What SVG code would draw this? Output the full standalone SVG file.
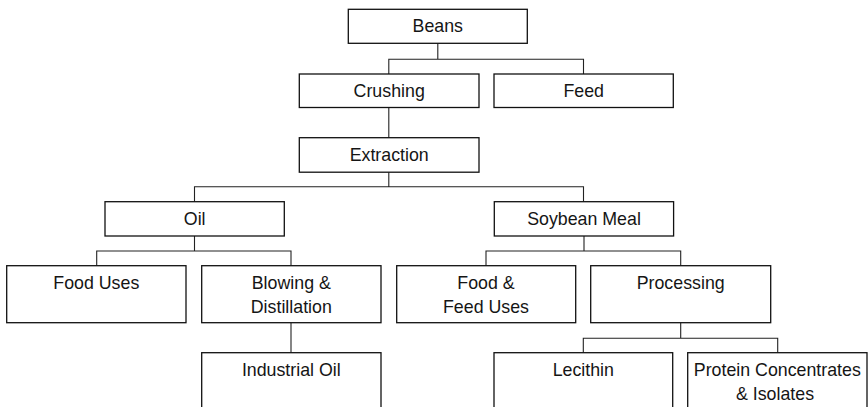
<svg xmlns="http://www.w3.org/2000/svg" width="868" height="407" viewBox="0 0 868 407">
<style>
.box{fill:#fff;stroke:#111;stroke-width:1.3}
.lbl{font-family:"Liberation Sans",Arial,sans-serif;font-size:17.8px;fill:#151515;text-anchor:middle}
.con{fill:none;stroke:#222;stroke-width:1.1}
</style>
<rect width="868" height="407" fill="#fff"/>
<g id="connectors">
<path class="con" d="M437.8 43.3V59.3M388.8 74V59.3H583.5V74"/>
<path class="con" d="M388.8 107.5V137.7"/>
<path class="con" d="M388.8 172.2V186.7M194.5 201.7V186.7H583.5V201.7"/>
<path class="con" d="M194.5 236V251M96.7 265.7V251H291V265.7"/>
<path class="con" d="M584 236V251M486 265.7V251H680.7V265.7"/>
<path class="con" d="M291 322.7V352.7"/>
<path class="con" d="M680.7 322.7V338.3M583.3 352.7V338.3H777.7V352.7"/>
</g>
<g id="beans"><rect class="box" x="348.3" y="9.3" width="179" height="34"/><text class="lbl" x="437.8" y="32">Beans</text></g>
<g id="crushing"><rect class="box" x="299.3" y="74" width="179.7" height="33.5"/><text class="lbl" x="389.2" y="97">Crushing</text></g>
<g id="feed"><rect class="box" x="494" y="74" width="179.3" height="33.5"/><text class="lbl" x="583.7" y="97">Feed</text></g>
<g id="extraction"><rect class="box" x="299.3" y="137.7" width="179.7" height="34.5"/><text class="lbl" x="389.2" y="161">Extraction</text></g>
<g id="oil"><rect class="box" x="105" y="201.7" width="179.3" height="34.3"/><text class="lbl" x="194.7" y="225">Oil</text></g>
<g id="soybean-meal"><rect class="box" x="494.3" y="201.7" width="179.3" height="34.3"/><text class="lbl" x="584" y="225">Soybean Meal</text></g>
<g id="food-uses"><rect class="box" x="6.7" y="265.7" width="179.3" height="57"/><text class="lbl" x="96.3" y="289">Food Uses</text></g>
<g id="blowing"><rect class="box" x="201.7" y="265.7" width="179.3" height="57"/><text class="lbl" x="291.3" y="289">Blowing &amp;</text><text class="lbl" x="291.3" y="312.5">Distillation</text></g>
<g id="food-feed"><rect class="box" x="396.7" y="265.7" width="179" height="57"/><text class="lbl" x="486" y="289">Food &amp;</text><text class="lbl" x="486" y="312.5">Feed Uses</text></g>
<g id="processing"><rect class="box" x="590.7" y="265.7" width="180" height="57"/><text class="lbl" x="680.7" y="289">Processing</text></g>
<g id="industrial-oil"><rect class="box" x="201.7" y="352.7" width="179.3" height="57"/><text class="lbl" x="291.3" y="376">Industrial Oil</text></g>
<g id="lecithin"><rect class="box" x="494" y="352.7" width="178.7" height="57"/><text class="lbl" x="583.3" y="376">Lecithin</text></g>
<g id="protein"><rect class="box" x="687.7" y="352.7" width="179.3" height="57"/><text class="lbl" x="777.3" y="376">Protein Concentrates</text><text class="lbl" x="775" y="399.5">&amp; Isolates</text></g>
</svg>
